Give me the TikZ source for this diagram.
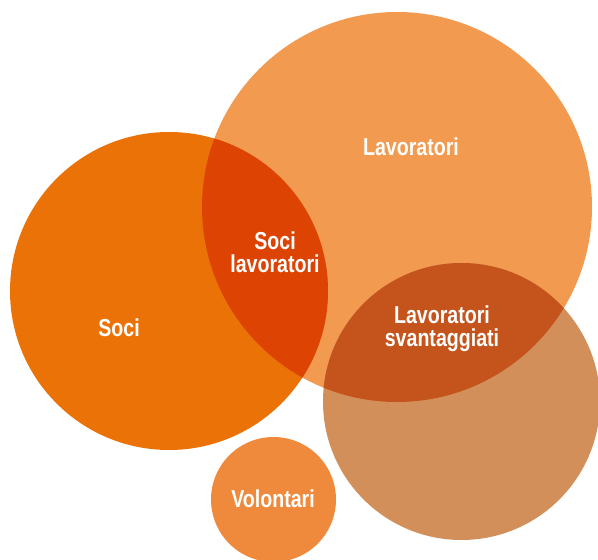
\documentclass[tikz,border=0pt]{standalone}
\usepackage{fontspec}
\setmainfont{Liberation Sans}[FakeStretch=0.8]
\usepackage{xcolor}
\usepackage{tikz}
\usetikzlibrary{positioning}
\definecolor{socicol}{HTML}{EB7207}
\definecolor{lavcol}{HTML}{F19A50}
\definecolor{svantcol}{HTML}{D38F59}
\definecolor{volcol}{HTML}{EF8A3C}
\definecolor{socilavcol}{HTML}{DD4403}
\definecolor{lavsvantcol}{HTML}{C5541C}

\begin{document}
\begin{tikzpicture}[x=1pt,y=1pt,
        disc/.style={circle,inner sep=0pt,outer sep=0pt},
        tag/.style={text=white,font=\bfseries\fontsize{24.5}{23}\selectfont,align=center,inner sep=0pt}]
        \useasboundingbox (0,0) rectangle (598,560);
        \clip (0,0) rectangle (598,560);
        % the four sets
        \node (lav) [disc, fill=lavcol, minimum size=390pt] at (397,353) {};
        \node (soci) [disc, fill=socicol, minimum size=318pt] at (169,269) {};
        \node (svant) [disc, fill=svantcol, minimum size=277pt] at (461.5,158.5) {};
        \node (vol) [disc, fill=volcol, minimum size=125pt] at (273.5,60.5) {};
        % overlaps
        \begin{scope}
            \clip (soci.center) circle (159pt);
            \fill [socilavcol] (lav.center) circle (195pt);
        \end{scope}
        \begin{scope}
            \clip (svant.center) circle (138.5pt);
            \fill [lavsvantcol] (lav.center) circle (195pt);
        \end{scope}
        % labels
        \node (tlav) [tag] at (411,413) {Lavoratori};
        \node (tsoci) [tag] at (119,232) {Soci};
        \node (tsocilav) [tag] at (275,308) {Soci\\lavoratori};
        \node (tsvant) [tag] at (442,231) {Lavoratori\\svantaggiati};
        \node (tvol) [tag] at (273,61) {Volontari};
    \end{tikzpicture}
\end{document}
